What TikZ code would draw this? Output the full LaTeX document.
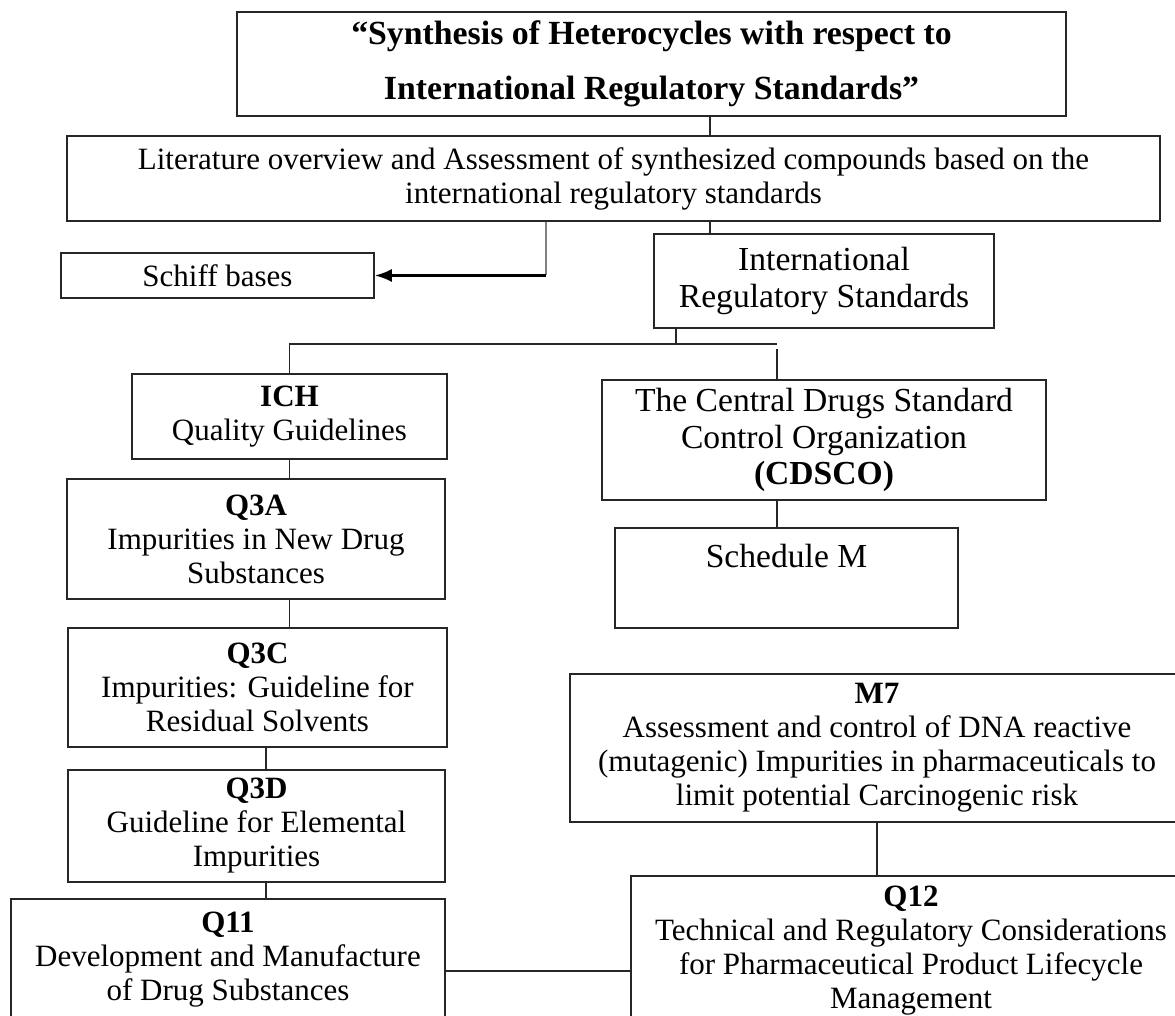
\documentclass[tikz,border=0pt]{standalone}
\usepackage{fontspec}
\setmainfont{Liberation Serif}
\usetikzlibrary{arrows.meta}
\tikzset{
	box/.style={draw=black!85, line width=1.5pt, align=center, inner sep=0pt, font=\fontsize{31}{34}\selectfont},
	bigbox/.style={box, font=\fontsize{33.6}{36.5}\selectfont},
	link/.style={draw=black!85, line width=1.5pt},
}

\begin{document}
\begin{tikzpicture}[x=1pt, y=-1pt]
		%%%%% START %%%%%
		\useasboundingbox (0,0) rectangle (1175,1016);
		\clip (0,0) rectangle (1175,1016);
		
		\node[box, font=\fontsize{33.8}{55}\selectfont\bfseries, minimum width=829pt, minimum height=104pt] (ttl) at (651.5,64) {“Synthesis of Heterocycles with respect to\\International Regulatory Standards”};
		\node[box, minimum width=1093pt, minimum height=85pt] (lit) at (613.5,178.5) {Literature overview and Assessment of synthesized compounds based on the\\international regulatory standards};
		
		\node[box, minimum width=313pt, minimum height=45pt] (schiff) at (217.5,275.5) {Schiff bases};
		\node[bigbox, minimum width=340pt, minimum height=94pt] (irs) at (824,281) {International\\Regulatory Standards};
		
		\node[box, minimum width=315pt, minimum height=85pt] (ich) at (289.5,416.5) {\textbf{ICH}\\Quality Guidelines};
		\node[bigbox, minimum width=444pt, minimum height=120pt] (cdsco) at (824,440) {The Central Drugs Standard\\Control Organization\\\textbf{(CDSCO)}};
		
		\node[box, minimum width=378pt, minimum height=120pt] (q3a) at (256,539) {\textbf{Q3A}\\Impurities in New Drug\\Substances};
		\node[bigbox, minimum width=343pt, minimum height=100pt] (schm) at (786.5,578) {Schedule M\\[8.5pt]~};
		
		\node[box, minimum width=379pt, minimum height=119pt] (q3c) at (257.5,687.5) {\textbf{Q3C}\\Impurities: Guideline for\\Residual Solvents};
		\node[box, minimum width=377pt, minimum height=112pt] (q3d) at (256.5,826) {\textbf{Q3D}\\Guideline for Elemental\\Impurities};
		\node[box, minimum width=434pt, minimum height=122pt] (q11) at (228,960) {\textbf{Q11}\\Development and Manufacture\\of Drug Substances};
		
		\node[box, minimum width=614pt, minimum height=148pt] (m7) at (877,748) {\textbf{M7}\\Assessment and control of DNA reactive\\(mutagenic) Impurities in pharmaceuticals to\\limit potential Carcinogenic risk};
		\node[box, minimum width=560pt, minimum height=150pt] (q12) at (911,951) {\textbf{Q12}\\Technical and Regulatory Considerations\\for Pharmaceutical Product Lifecycle\\Management};
		
		\coordinate (topx) at (710,0);
		\coordinate (sch) at (546,0);
		\coordinate (bus) at (676,344);
		\coordinate (busR) at (777,344);
		\coordinate (lx) at (266,0);
		\coordinate (lk) at (0,971);
		
		\draw[link] (ttl.south -| topx) -- (lit.north -| topx);
		\draw[link] (lit.south -| topx) -- (irs.north -| topx);
		\draw[link, draw=black!50] (lit.south -| sch) -- (sch |- schiff.east);
		\draw[link, draw=black, line width=2.5pt, -{Latex[length=17pt,width=13pt]}] (sch |- schiff.east) -- (schiff.east);
		
		\draw[link] (irs.south -| bus) -- (bus);
		\draw[link] (ich.north) |- (busR);
		\draw[link] ([yshift=-5pt]busR) -- (cdsco.north -| busR);
		\draw[link] (cdsco.south -| busR) -- (schm.north -| busR);
		
		\draw[link] (ich.south) -- (ich.south |- q3a.north);
		\draw[link] (ich.south |- q3a.south) -- (ich.south |- q3c.north);
		\draw[link] (q3c.south -| lx) -- (q3d.north -| lx);
		\draw[link] (q3d.south -| lx) -- (q11.north -| lx);
		
		\draw[link] (m7.south) -- (m7.south |- q12.north);
		\draw[link] (q11.east |- lk) -- (q12.west |- lk);
		%%%%% END %%%%%
	\end{tikzpicture}
\end{document}
